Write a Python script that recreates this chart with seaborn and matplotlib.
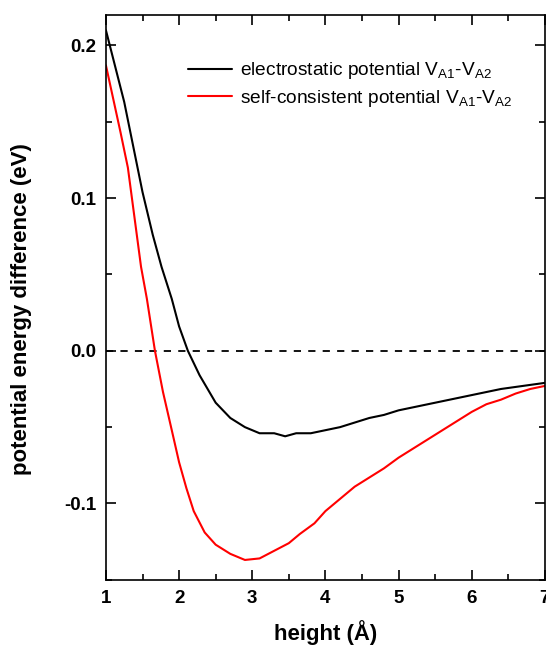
import numpy as np
import pandas as pd
import matplotlib
matplotlib.use("Agg")
import matplotlib.pyplot as plt
from matplotlib.ticker import MultipleLocator
import seaborn as sns

# alturas (Å) y diferencias de potencial (eV)
h_elec = [1.0, 1.25, 1.5, 1.64, 1.76, 1.9, 2.0, 2.12, 2.28, 2.5, 2.7, 2.9, 3.1, 3.3,
          3.45, 3.6, 3.8, 4.0, 4.2, 4.4, 4.6, 4.8, 5.0, 5.2, 5.5, 5.8, 6.0, 6.2,
          6.4, 6.7, 7.0]
v_elec = [0.210, 0.163, 0.104, 0.076, 0.055, 0.034, 0.016, 0.0, -0.016, -0.034,
          -0.044, -0.050, -0.054, -0.054, -0.056, -0.054, -0.054, -0.052, -0.050,
          -0.047, -0.044, -0.042, -0.039, -0.037, -0.034, -0.031, -0.029, -0.027,
          -0.025, -0.023, -0.021]

h_scf = [1.0, 1.2, 1.3, 1.48, 1.56, 1.67, 1.78, 1.9, 2.0, 2.1, 2.2, 2.35, 2.5, 2.7,
         2.9, 3.1, 3.3, 3.5, 3.65, 3.85, 4.0, 4.2, 4.4, 4.6, 4.8, 5.0, 5.2, 5.5,
         5.8, 6.0, 6.2, 6.4, 6.6, 6.8, 7.0]
v_scf = [0.187, 0.143, 0.120, 0.055, 0.034, 0.0, -0.027, -0.052, -0.073, -0.090,
         -0.105, -0.119, -0.127, -0.133, -0.137, -0.136, -0.131, -0.126, -0.120,
         -0.113, -0.105, -0.097, -0.089, -0.083, -0.077, -0.070, -0.064, -0.055,
         -0.046, -0.040, -0.035, -0.032, -0.028, -0.025, -0.023]

label_elec = r'electrostatic potential V$_{\mathregular{A1}}$-V$_{\mathregular{A2}}$'
label_scf = r'self-consistent potential V$_{\mathregular{A1}}$-V$_{\mathregular{A2}}$'

sns.set_style("ticks")
plt.rcParams['font.family'] = ['Liberation Sans', 'DejaVu Sans']
plt.rcParams['mathtext.fontset'] = 'custom'
plt.rcParams['mathtext.rm'] = 'Liberation Sans'
plt.rcParams['axes.unicode_minus'] = False
for key in ['text.color', 'axes.labelcolor', 'xtick.color', 'ytick.color',
            'axes.edgecolor']:
    plt.rcParams[key] = 'black'

df_elec = pd.DataFrame({'height': h_elec, 'dv': v_elec})
df_scf = pd.DataFrame({'height': h_scf, 'dv': v_scf})

fig = plt.figure(figsize=(5.46, 6.5), dpi=100)
ax = fig.add_axes([0.194, 0.108, 0.804, 0.869])

ax.axhline(0, color='black', lw=1.3, ls=(0, (4, 4)), zorder=1)
sns.lineplot(data=df_elec, x='height', y='dv', ax=ax, color='black', lw=1.5,
             label=label_elec, sort=False)
sns.lineplot(data=df_scf, x='height', y='dv', ax=ax, color='#ff0000', lw=1.5,
             label=label_scf, sort=False)

ax.set_xlim(1, 7)
ax.set_ylim(-0.15, 0.22)
ax.xaxis.set_major_locator(MultipleLocator(1))
ax.xaxis.set_minor_locator(MultipleLocator(0.5))
ax.yaxis.set_major_locator(MultipleLocator(0.1))
ax.yaxis.set_minor_locator(MultipleLocator(0.05))
ax.tick_params(which='both', direction='in', top=True, right=True, width=1.2)
ax.tick_params(which='major', length=7, labelsize=13.5, pad=7)
ax.tick_params(which='minor', length=4)
for lab in ax.get_xticklabels() + ax.get_yticklabels():
    lab.set_fontweight('bold')
for sp in ax.spines.values():
    sp.set_linewidth(1.2)

ax.set_xlabel('height (Å)', fontsize=16, fontweight='bold', labelpad=10)
ax.set_ylabel('potential energy difference (eV)', fontsize=16, fontweight='bold')
ax.yaxis.set_label_coords(-0.168, 0.48)

ax.legend(loc='upper left', bbox_to_anchor=(0.148, 0.95), frameon=False,
          fontsize=13.8, handlelength=2.3, handletextpad=0.4, labelspacing=0.35)

fig.savefig('out.png', dpi=100)
